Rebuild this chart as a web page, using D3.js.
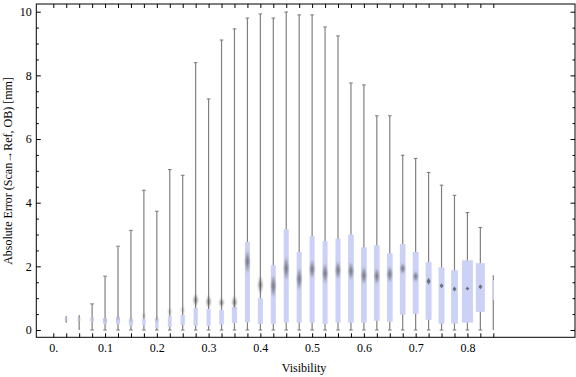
<!DOCTYPE html>
<html>
<head>
<meta charset="utf-8">
<script src="https://cdn.jsdelivr.net/npm/d3@7"></script>
<style>
  html, body { margin: 0; padding: 0; background: #fff; }
  svg { display: block; }
  text { font-family: "Liberation Serif", "DejaVu Serif", serif; fill: #000; }
</style>
</head>
<body>
<svg id="chart" width="576" height="377"></svg>
<script>
// ---- data ----
const visibility = [0.025,0.05,0.075,0.1,0.125,0.15,0.175,0.2,0.225,0.25,0.275,0.3,0.325,0.35,0.375,0.4,0.425,0.45,0.475,0.5,0.525,0.55,0.575,0.6,0.625,0.65,0.675,0.7,0.725,0.75,0.775,0.8,0.825,0.85];
const maxVals = [0.44,0.47,0.82,1.69,2.63,3.13,4.39,3.73,5.04,4.86,8.40,7.26,9.11,9.46,9.80,9.93,9.80,9.99,9.90,9.90,9.52,9.24,7.76,7.70,6.73,6.73,5.49,5.39,4.95,4.55,4.23,3.69,3.22,1.72];
const q3Vals  = [0.40,0.38,0.39,0.37,0.40,0.34,0.35,0.34,0.43,0.47,0.69,0.66,0.63,0.72,2.77,1.00,2.03,3.17,2.45,2.95,2.79,2.87,3.00,2.60,2.66,2.41,2.70,2.45,2.13,1.97,1.88,2.19,2.10,1.57];
const medianVals = [0.33,0.33,0.33,0.31,0.36,0.31,0.45,0.34,0.57,0.63,0.94,0.89,0.86,0.87,2.15,1.41,1.38,1.93,1.60,1.91,1.78,1.88,1.85,1.71,1.69,1.75,1.93,1.68,1.53,1.39,1.29,1.30,1.36,null];
const q1Vals  = [0.28,0.28,0.26,0.19,0.19,0.14,0.14,0.06,0.10,0.16,0.13,0.13,0.17,0.22,0.24,0.19,0.19,0.23,0.23,0.23,0.19,0.23,0.23,0.23,0.29,0.26,0.48,0.51,0.32,0.20,0.20,0.23,0.57,0.94];
const minVals = [0.23,0,0,0,0,0,0,0,0,0,0,0,0,0,0,0,0,0,0,0,0,0,0,0,0,0,0,0,0,0,0,0,0,0];
// spread of the median marker (value units, half-height)
const medianSpread = [0.03,0.03,0.05,0.05,0.06,0.05,0.08,0.08,0.11,0.11,0.19,0.19,0.13,0.19,0.34,0.27,0.34,0.36,0.34,0.28,0.31,0.27,0.27,0.27,0.24,0.24,0.16,0.16,0.11,0.08,0.08,0.06,0.08,0];
// relative box width (fraction of bin spacing)
const relWidth = [0.08,0.08,0.25,0.31,0.31,0.31,0.27,0.27,0.29,0.33,0.33,0.31,0.36,0.41,0.39,0.39,0.39,0.39,0.39,0.39,0.39,0.39,0.44,0.44,0.44,0.44,0.44,0.46,0.46,0.46,0.52,0.85,0.70,0.1];
const xTickValues = d3.range(0, 35).map(i => +(i * 0.025).toFixed(3));
const xTickLabels = {0: "0.", 0.1: "0.1", 0.2: "0.2", 0.3: "0.3", 0.4: "0.4", 0.5: "0.5", 0.6: "0.6", 0.7: "0.7", 0.8: "0.8"};
const yMajorTicks = [0, 2, 4, 6, 8, 10];
const yMinorTicks = d3.range(0, 10.01, 0.5).filter(v => v % 2 !== 0);
const xTitle = "Visibility";
const yTitle = "Absolute Error (Scan\u2192Ref, OB) [mm]";

// ---- layout ----
const frame = {left: 36.3, right: 575, top: 4, bottom: 337.3};
const x = d3.scaleLinear().domain([0, 0.85]).range([53.3, 493.3]);
const y = d3.scaleLinear().domain([0, 10]).range([330, 11.7]);
const step = x(0.025) - x(0);

const svg = d3.select("#chart");
const defs = svg.append("defs");
defs.append("filter").attr("id", "blur").attr("x", "-150%").attr("y", "-60%").attr("width", "400%").attr("height", "220%")
  .append("feGaussianBlur").attr("stdDeviation", 0.85);
defs.append("filter").attr("id", "blurS").attr("x", "-150%").attr("y", "-150%").attr("width", "400%").attr("height", "400%")
  .append("feGaussianBlur").attr("stdDeviation", 0.5);

const data = visibility.map((v, i) => ({
  v, max: maxVals[i], q3: q3Vals[i], med: medianVals[i], q1: q1Vals[i], min: minVals[i],
  spread: medianSpread[i], w: relWidth[i] * step
}));

// whiskers
const g = svg.append("g");
g.selectAll("line.whisker").data(data).join("line")
  .attr("class", "whisker")
  .attr("x1", d => x(d.v)).attr("x2", d => x(d.v))
  .attr("y1", d => y(d.min)).attr("y2", d => y(d.max))
  .attr("stroke", "#808080").attr("stroke-width", 1.2);

// caps
const capped = data.filter(d => d.w >= 3);
g.selectAll("line.capTop").data(capped).join("line")
  .attr("x1", d => x(d.v) - 1.8).attr("x2", d => x(d.v) + 1.8)
  .attr("y1", d => y(d.max)).attr("y2", d => y(d.max))
  .attr("stroke", "#808080").attr("stroke-width", 1.1);
g.selectAll("line.capBot").data(capped).join("line")
  .attr("x1", d => x(d.v) - 1.8).attr("x2", d => x(d.v) + 1.8)
  .attr("y1", d => y(d.min)).attr("y2", d => y(d.min))
  .attr("stroke", "#808080").attr("stroke-width", 1.1);

// boxes
g.selectAll("rect.box").data(data).join("rect")
  .attr("x", d => x(d.v) - d.w / 2).attr("width", d => d.w)
  .attr("y", d => y(d.q3)).attr("height", d => y(d.q1) - y(d.q3))
  .attr("fill", "#ccd2f5");

// median markers
const early = d => d.v < 0.26;
g.selectAll("path.med").data(data.filter(d => d.med != null && d.spread > 0)).join("path")
  .attr("d", d => {
    const cx = x(d.v), cy = y(d.med);
    const h = Math.max(1.5, y(d.med - d.spread) - cy);
    const hw = early(d) ? 1.3 : (h < 4 ? 2.0 : 1.8);
    return `M${cx},${cy - h}L${cx + hw},${cy}L${cx},${cy + h}L${cx - hw},${cy}Z`;
  })
  .attr("fill", "#555")
  .attr("fill-opacity", d => early(d) ? 0.45 : 0.78)
  .attr("filter", d => (!early(d) && d.spread < 0.12) ? "url(#blurS)" : "url(#blur)");

// axes
svg.append("g").attr("transform", `translate(0,${frame.bottom})`)
  .call(d3.axisBottom(x).tickValues(xTickValues).tickSizeInner(-4).tickSizeOuter(0).tickPadding(6)
    .tickFormat(d => xTickLabels[d] !== undefined ? xTickLabels[d] : ""));
svg.append("g").attr("transform", `translate(0,${frame.top})`)
  .call(d3.axisTop(x).tickValues(xTickValues).tickSizeInner(-4).tickSizeOuter(0).tickFormat(""));
svg.append("g").attr("transform", `translate(${frame.left},0)`)
  .call(d3.axisLeft(y).tickValues(yMajorTicks).tickSizeInner(-4.5).tickSizeOuter(0).tickPadding(4.5)
    .tickFormat(d3.format("d")));
svg.append("g").attr("transform", `translate(${frame.left},0)`)
  .call(d3.axisLeft(y).tickValues(yMinorTicks).tickSizeInner(-2.5).tickSizeOuter(0).tickFormat(""));
svg.append("g").attr("transform", `translate(${frame.right},0)`)
  .call(d3.axisRight(y).tickValues(yMajorTicks).tickSizeInner(-4.5).tickSizeOuter(0).tickFormat(""));
svg.append("g").attr("transform", `translate(${frame.right},0)`)
  .call(d3.axisRight(y).tickValues(yMinorTicks).tickSizeInner(-2.5).tickSizeOuter(0).tickFormat(""));

svg.selectAll(".domain").remove();
svg.selectAll(".tick line").attr("stroke", "#000").attr("stroke-width", 1);
svg.selectAll(".tick text").attr("font-size", 12).attr("font-family", "Liberation Serif").attr("fill", "#000");

// frame
svg.append("rect")
  .attr("x", frame.left).attr("y", frame.top)
  .attr("width", frame.right - frame.left).attr("height", frame.bottom - frame.top)
  .attr("fill", "none").attr("stroke", "#000").attr("stroke-width", 1);

// titles
svg.append("text").attr("x", 304).attr("y", 372).attr("text-anchor", "middle")
  .attr("font-size", 12).text(xTitle);
svg.append("text").attr("transform", "translate(12,171) rotate(-90)").attr("text-anchor", "middle")
  .attr("font-size", 12).text(yTitle);
</script>
</body>
</html>
